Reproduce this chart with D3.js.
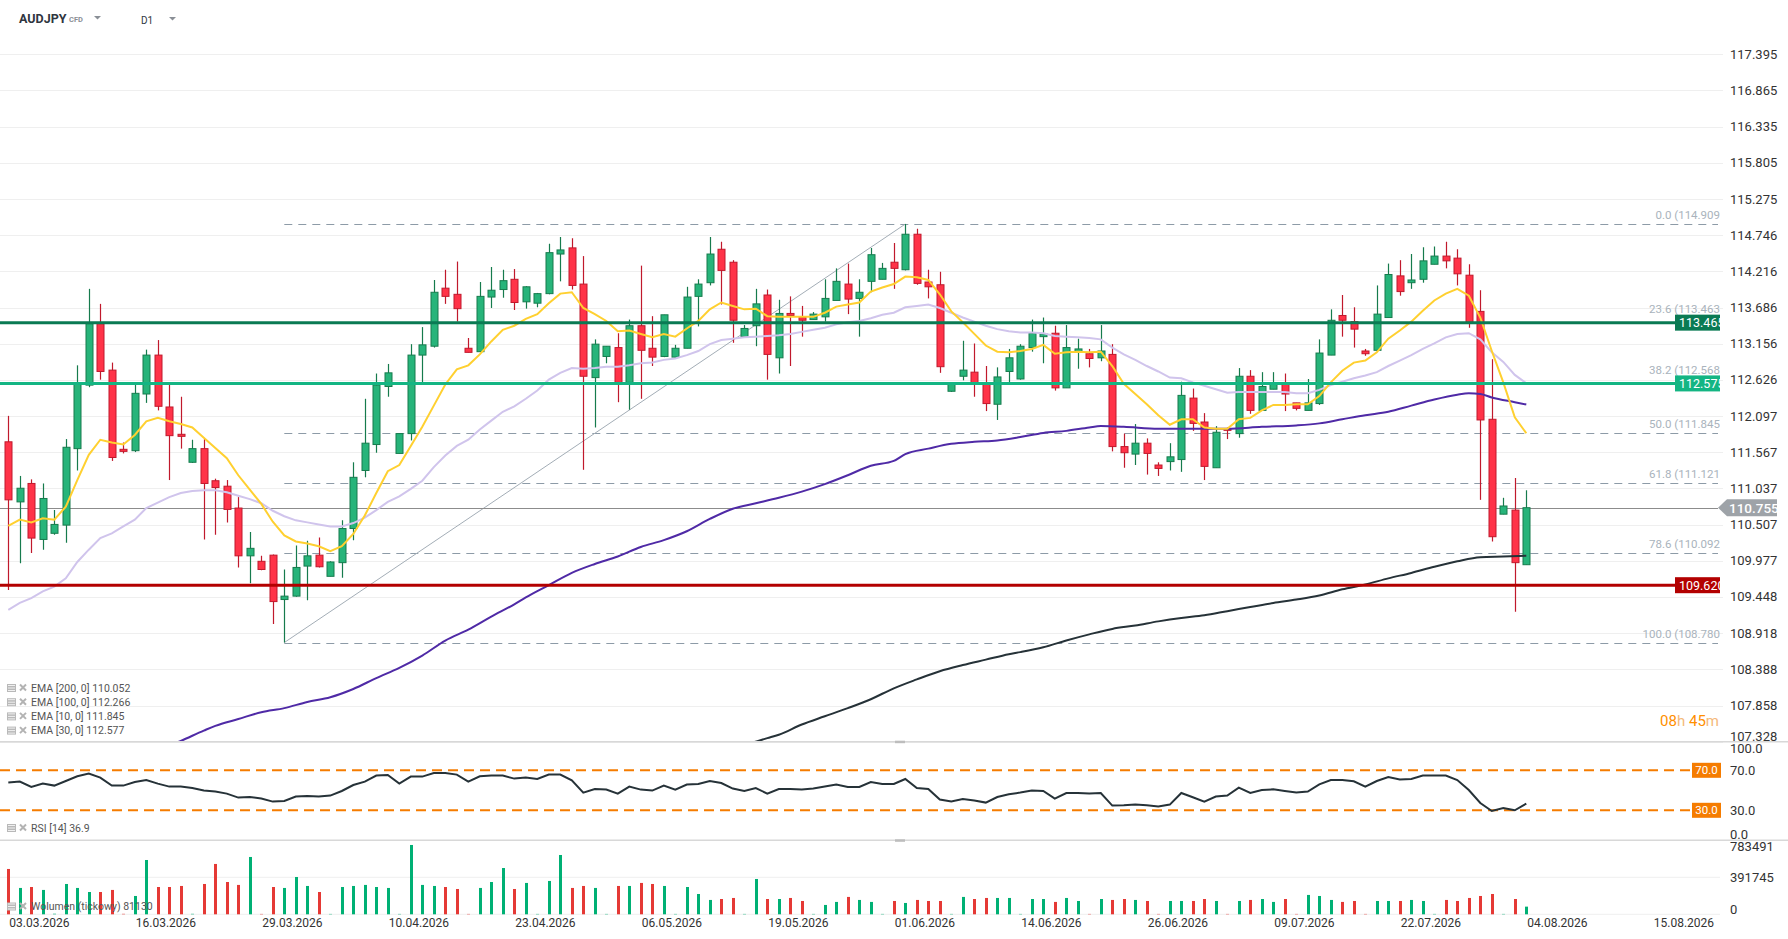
<!DOCTYPE html>
<html>
<head>
<meta charset="utf-8">
<script src="https://cdn.jsdelivr.net/npm/d3@7.9.0/dist/d3.min.js"></script>
<style>
  html, body { margin: 0; padding: 0; background: #fff; }
  svg { display: block; font-family: Roboto, "Noto Sans", sans-serif; }
</style>
</head>
<body>
<svg id="chart" width="1788" height="939"></svg>
<script>
// AUDJPY D1 candles, one per trading bar starting 03.03.2026
const openP = [
  111.72, 110.84, 111.11, 110.29, 110.38, 110.50, 111.62, 112.55, 113.45, 112.77,
  111.61, 111.59, 112.42, 112.99, 112.23, 111.83, 111.42, 111.62, 111.15, 111.07,
  110.75, 110.05, 109.97, 110.06, 109.41, 109.46, 109.90, 110.06, 109.75, 109.95,
  110.45, 111.30, 111.68, 112.53, 111.55, 111.84, 112.99, 113.12, 113.97, 113.88,
  113.09, 113.04, 113.84, 113.95, 114.10, 113.77, 113.75, 113.89, 114.47, 114.56,
  114.03, 112.66, 112.97, 113.10, 112.59, 113.42, 113.09, 112.97, 112.96, 113.09,
  113.85, 114.05, 114.54, 114.35, 113.26, 113.42, 113.87, 112.95, 113.60, 113.54,
  113.51, 113.55, 113.79, 114.03, 113.82, 114.07, 114.10, 114.35, 114.24, 114.76,
  114.06, 114.02, 112.46, 112.68, 112.74, 112.56, 112.27, 112.75, 112.64, 113.10,
  113.26, 113.31, 112.51, 113.04, 113.01, 112.95, 113.00, 111.65, 111.54, 111.70,
  111.38, 111.43, 111.46, 112.36, 112.01, 111.34, 111.91, 111.84, 112.68, 112.18,
  112.49, 112.56, 112.29, 112.18, 112.28, 112.99, 113.57, 113.48, 113.05, 113.06,
  113.54, 114.15, 114.05, 114.10, 114.32, 114.44, 114.41, 114.16, 113.63, 112.05,
  110.66, 110.72, 109.92
];
const highP = [
  112.10, 111.22, 111.17, 111.11, 110.72, 111.76, 112.84, 113.96, 113.74, 112.88,
  111.71, 112.56, 113.07, 113.21, 112.57, 112.38, 111.75, 111.76, 111.18, 111.16,
  110.91, 110.40, 110.05, 110.07, 109.85, 110.20, 110.27, 110.32, 109.97, 110.57,
  111.42, 112.35, 112.72, 112.86, 111.84, 113.15, 113.40, 114.09, 114.24, 114.36,
  113.24, 114.06, 114.28, 114.24, 114.25, 114.00, 113.90, 114.62, 114.72, 114.70,
  114.44, 113.22, 113.12, 113.31, 113.51, 114.30, 113.56, 113.58, 113.14, 113.99,
  114.10, 114.72, 114.65, 114.38, 113.43, 113.96, 113.95, 113.80, 113.85, 113.71,
  113.62, 114.10, 114.26, 114.33, 114.10, 114.56, 114.34, 114.63, 114.909, 114.84,
  114.24, 114.21, 112.57, 113.20, 113.16, 112.83, 112.81, 113.08, 113.15, 113.51,
  113.54, 113.42, 113.43, 113.23, 113.08, 113.43, 113.15, 111.84, 111.98, 111.77,
  111.42, 111.70, 112.60, 112.50, 112.14, 111.95, 111.93, 112.80, 112.77, 112.74,
  112.74, 112.72, 112.29, 112.64, 113.22, 113.66, 113.87, 113.69, 113.08, 114.01,
  114.33, 114.38, 114.47, 114.57, 114.58, 114.65, 114.54, 114.32, 113.94, 112.93,
  110.90, 111.19, 111.01
];
const lowP = [
  109.55, 109.94, 110.09, 110.14, 110.36, 110.24, 111.30, 112.52, 112.63, 111.44,
  111.55, 111.57, 112.29, 112.18, 111.16, 111.62, 111.41, 110.29, 110.36, 110.54,
  109.88, 109.65, 109.84, 109.05, 108.78, 109.45, 109.40, 109.88, 109.75, 109.73,
  110.28, 111.20, 111.56, 112.38, 111.55, 111.74, 112.59, 113.10, 113.74, 113.48,
  113.03, 113.04, 113.68, 113.83, 113.65, 113.67, 113.69, 113.88, 114.07, 113.95,
  111.31, 111.93, 112.87, 112.30, 112.19, 112.35, 112.83, 112.96, 112.95, 113.09,
  113.41, 114.01, 113.73, 113.17, 113.26, 113.12, 112.63, 112.72, 112.83, 113.26,
  113.51, 113.48, 113.79, 113.59, 113.26, 113.91, 114.10, 113.96, 114.23, 114.02,
  113.82, 112.73, 112.45, 112.62, 112.38, 112.17, 112.04, 112.56, 112.63, 113.04,
  112.87, 112.47, 112.51, 112.79, 112.81, 112.90, 111.58, 111.34, 111.38, 111.24,
  111.22, 111.30, 111.28, 111.88, 111.16, 111.34, 111.76, 111.78, 112.13, 112.18,
  112.49, 112.17, 112.18, 112.18, 112.26, 112.99, 113.26, 113.10, 112.98, 113.06,
  113.54, 113.86, 113.96, 114.05, 114.32, 114.26, 114.01, 113.39, 110.87, 110.26,
  110.66, 109.23, 109.92
];
const closeP = [
  110.87, 111.04, 110.31, 110.89, 110.51, 111.64, 112.56, 113.45, 112.75, 111.49,
  111.58, 112.43, 112.99, 112.24, 111.81, 111.80, 111.62, 111.11, 111.05, 110.73,
  110.05, 110.16, 109.85, 109.38, 109.46, 109.88, 110.05, 109.89, 109.96, 110.45,
  111.20, 111.70, 112.55, 112.73, 111.84, 112.99, 113.14, 113.91, 113.85, 113.67,
  113.03, 113.85, 113.94, 114.08, 113.76, 113.99, 113.89, 114.49, 114.53, 114.01,
  112.68, 113.15, 113.12, 112.59, 113.42, 113.06, 112.96, 113.58, 113.09, 113.84,
  114.03, 114.47, 114.23, 113.50, 113.38, 113.74, 113.00, 113.60, 113.57, 113.50,
  113.59, 113.82, 114.07, 113.81, 113.91, 114.46, 114.26, 114.26, 114.76, 114.04,
  113.99, 112.82, 112.56, 112.77, 112.57, 112.28, 112.67, 112.95, 113.12, 113.31,
  113.30, 112.51, 113.10, 113.08, 112.94, 113.05, 111.65, 111.56, 111.70, 111.55,
  111.33, 111.50, 112.40, 111.99, 111.36, 111.86, 111.89, 112.68, 112.18, 112.53,
  112.57, 112.42, 112.21, 112.29, 113.02, 113.50, 113.50, 113.37, 113.01, 113.59,
  114.17, 113.92, 114.09, 114.37, 114.44, 114.37, 114.18, 113.47, 112.04, 110.33,
  110.78, 109.95, 110.755
];

// EMA values read per bar
const ema10 = [
  110.49, 110.58, 110.54, 110.60, 110.58, 110.77, 111.16, 111.53, 111.75, 111.71,
  111.68, 111.82, 112.02, 112.07, 112.02, 111.98, 111.93, 111.78, 111.63, 111.48,
  111.23, 111.02, 110.81, 110.55, 110.35, 110.26, 110.23, 110.19, 110.12, 110.19,
  110.37, 110.64, 110.97, 111.29, 111.38, 111.66, 111.94, 112.25, 112.56, 112.78,
  112.84, 113.00, 113.19, 113.36, 113.42, 113.52, 113.59, 113.75, 113.89, 113.91,
  113.68, 113.59, 113.49, 113.34, 113.35, 113.30, 113.25, 113.30, 113.26, 113.38,
  113.49, 113.66, 113.76, 113.71, 113.66, 113.67, 113.56, 113.55, 113.55, 113.55,
  113.55, 113.61, 113.70, 113.73, 113.76, 113.92, 113.98, 114.03, 114.14, 114.13,
  114.09, 113.88, 113.63, 113.47, 113.30, 113.13, 113.04, 113.03, 113.05, 113.08,
  113.14, 113.01, 113.03, 113.04, 113.03, 113.04, 112.83, 112.57, 112.42, 112.27,
  112.11, 111.97, 112.05, 112.05, 111.93, 111.91, 111.91, 112.05, 112.07, 112.18,
  112.26, 112.26, 112.27, 112.27, 112.39, 112.59, 112.76, 112.88, 112.91, 113.03,
  113.23, 113.35, 113.48, 113.64, 113.79, 113.89, 113.96, 113.86, 113.54, 113.05,
  112.59, 112.08, 111.845
];
const ema30 = [
  109.26, 109.36, 109.43, 109.53, 109.60, 109.72, 109.96, 110.14, 110.31, 110.38,
  110.48, 110.58, 110.75, 110.83, 110.91, 110.97, 111.00, 111.01, 111.01, 110.98,
  110.93, 110.88, 110.82, 110.71, 110.63, 110.57, 110.54, 110.51, 110.48, 110.48,
  110.53, 110.61, 110.72, 110.84, 110.92, 111.03, 111.15, 111.35, 111.52, 111.66,
  111.75, 111.90, 112.03, 112.16, 112.24, 112.35, 112.47, 112.63, 112.73, 112.80,
  112.79, 112.80, 112.82, 112.82, 112.84, 112.87, 112.88, 112.92, 112.94, 112.99,
  113.05, 113.15, 113.21, 113.23, 113.25, 113.26, 113.27, 113.28, 113.30, 113.33,
  113.36, 113.39, 113.44, 113.47, 113.49, 113.53, 113.58, 113.61, 113.69, 113.71,
  113.73, 113.68, 113.61, 113.54, 113.48, 113.42, 113.37, 113.34, 113.32, 113.32,
  113.31, 113.27, 113.26, 113.25, 113.24, 113.22, 113.10, 113.00, 112.92, 112.83,
  112.75, 112.66, 112.65, 112.59, 112.54, 112.49, 112.44, 112.45, 112.45, 112.45,
  112.45, 112.45, 112.43, 112.43, 112.48, 112.55, 112.60, 112.65, 112.69, 112.74,
  112.83, 112.91, 112.99, 113.08, 113.16, 113.25, 113.30, 113.31, 113.22, 113.03,
  112.89, 112.70, 112.577
];
// EMA 100 / 200 read at sample bars
const ema100Bars = [14, 15, 17, 18, 20, 22, 24, 26, 28, 30, 32, 34, 36, 38, 40, 42, 44, 45, 47, 49,
  51, 53, 55, 57, 59, 61, 63, 65, 67, 69, 71, 73, 75, 77, 78, 80, 82, 84, 86, 88,
  90, 92, 94, 95, 97, 100, 103, 106, 109, 112, 114, 116, 118, 120, 122, 124, 126, 127, 128, 129, 131, 132];
const ema100Vals = [107.27, 107.34, 107.49, 107.56, 107.66, 107.76, 107.82, 107.91, 107.98, 108.10,
  108.26, 108.41, 108.59, 108.81, 108.97, 109.16, 109.34, 109.44, 109.62, 109.80,
  109.93, 110.04, 110.18, 110.28, 110.41, 110.59, 110.74, 110.82, 110.90, 110.99,
  111.10, 111.23, 111.37, 111.44, 111.54, 111.62, 111.69, 111.72, 111.74, 111.79,
  111.85, 111.88, 111.93, 111.95, 111.94, 111.91, 111.91, 111.91, 111.94, 111.96,
  111.99, 112.05, 112.11, 112.16, 112.25, 112.34, 112.41, 112.43, 112.42, 112.37, 112.30, 112.266];
const ema200Bars = [64, 66, 67, 69, 71, 73, 75, 77, 79, 81, 83, 85, 87, 88, 90, 92, 94, 96, 98, 100,
  102, 104, 106, 108, 110, 112, 114, 116, 118, 120, 122, 124, 126, 128, 130, 132];
const ema200Vals = [107.28, 107.38, 107.43, 107.58, 107.70, 107.82, 107.95, 108.11, 108.24, 108.36,
  108.45, 108.53, 108.61, 108.64, 108.71, 108.81, 108.90, 108.98, 109.03, 109.09,
  109.14, 109.18, 109.24, 109.30, 109.36, 109.41, 109.47, 109.56, 109.63, 109.72,
  109.80, 109.89, 109.97, 110.03, 110.04, 110.052];

const rsi14 = [
  57.7, 58.7, 53.3, 56.7, 54.7, 59.3, 64.0, 66.7, 62.7, 54.7,
  54.7, 58.3, 60.3, 56.7, 53.7, 53.7, 52.3, 49.7, 48.7, 46.7,
  42.7, 43.3, 41.7, 38.7, 39.3, 43.7, 44.3, 43.7, 44.7, 49.3,
  55.3, 58.7, 64.7, 65.3, 56.7, 63.7, 63.7, 67.3, 67.3, 65.7,
  58.7, 64.0, 64.7, 64.7, 61.7, 62.7, 61.3, 65.7, 65.7, 60.0,
  47.7, 51.3, 50.7, 46.7, 53.7, 50.7, 49.7, 54.7, 50.7, 55.7,
  56.3, 59.3, 57.3, 51.7, 49.3, 52.3, 46.7, 51.3, 51.3, 50.7,
  51.7, 53.7, 55.7, 53.3, 53.3, 58.3, 56.3, 56.3, 61.3, 52.3,
  51.3, 40.7, 38.7, 41.3, 39.7, 37.7, 43.3, 46.0, 47.7, 49.7,
  49.3, 41.7, 47.3, 47.3, 46.7, 47.3, 34.7, 35.0, 35.7, 35.0,
  33.7, 35.7, 47.3, 43.0, 38.7, 43.7, 44.7, 52.7, 47.3, 50.3,
  51.0, 49.3, 47.7, 48.7, 56.0, 60.3, 60.3, 59.0, 53.7, 59.3,
  63.3, 60.7, 61.3, 64.7, 64.7, 64.7, 60.3, 50.3, 37.3, 29.3,
  32.3, 30.0, 36.7
];
const volume = [
  480000, 279000, 289000, 258000, 6000, 321000, 279000, 236000, 236000, 258000,
  5000, 194000, 575000, 289000, 289000, 300000, 5000, 321000, 533000, 342000,
  311000, 607000, 4000, 289000, 279000, 395000, 300000, 236000, 4000, 289000,
  300000, 311000, 289000, 279000, 4000, 734000, 311000, 300000, 289000, 268000,
  4000, 279000, 342000, 490000, 268000, 332000, 4000, 353000, 628000, 279000,
  300000, 279000, 4000, 300000, 300000, 332000, 321000, 300000, 4000, 289000,
  215000, 152000, 162000, 173000, 4000, 374000, 162000, 162000, 173000, 141000,
  4000, 99000, 131000, 184000, 152000, 131000, 4000, 141000, 120000, 152000,
  141000, 141000, 4000, 184000, 162000, 173000, 173000, 173000, 4000, 162000,
  162000, 131000, 173000, 141000, 4000, 162000, 152000, 162000, 152000, 141000,
  4000, 141000, 141000, 141000, 162000, 141000, 4000, 141000, 152000, 162000,
  131000, 162000, 4000, 205000, 194000, 152000, 131000, 141000, 4000, 141000,
  141000, 141000, 152000, 141000, 4000, 152000, 141000, 173000, 194000, 215000,
  4000, 162000, 81130
];

const dateLabels = ['03.03.2026', '16.03.2026', '29.03.2026', '10.04.2026', '23.04.2026', '06.05.2026',
  '19.05.2026', '01.06.2026', '14.06.2026', '26.06.2026', '09.07.2026', '22.07.2026', '04.08.2026', '15.08.2026'];
const barsPerLabel = 11;
const priceTicks = [117.395, 116.865, 116.335, 115.805, 115.275, 114.746, 114.216, 113.686, 113.156, 112.626,
  112.097, 111.567, 111.037, 110.507, 109.977, 109.448, 108.918, 108.388, 107.858, 107.328];
const rsiTicks = [100, 70, 30, 0];
const volTicks = [783491, 391745, 0];

const fibPct = [0, 23.6, 38.2, 50, 61.8, 78.6, 100];
const fibPrice = [114.909, 113.463, 112.568, 111.845, 111.121, 110.092, 108.780];
const fibFromBar = 24, fibToBar = 78;

const levelPrices = [113.465, 112.575, 109.620];
const levelColors = ['#0a7a53', '#14b583', '#b30000'];
const lastPrice = 110.755;

const emaLegend = ['EMA [200, 0] 110.052', 'EMA [100, 0] 112.266', 'EMA [10, 0] 111.845', 'EMA [30, 0] 112.577'];

// ---------- drawing ----------
const svg = d3.select('#chart');
const plotRight = 1720;
const mainTop = 40, mainBottom = 741.7, rsiBottom = 840.3, volBottom = 914.3;

const x = d3.scaleLinear().domain([0, 132]).range([8.3, 1526.3]);
const y = d3.scaleLinear().domain([107.328, 117.395]).range([mainBottom, 54.3]);
const yRsi = d3.scaleLinear().domain([0, 100]).range([rsiBottom, 740.3]);
const yVol = d3.scaleLinear().domain([0, 783491]).range([volBottom, rsiBottom]);

const greenFill = '#27b47a', greenLine = '#167b4d';
const redFill = '#ff3348', redLine = '#c0192c';

const defs = svg.append('defs');
defs.append('clipPath').attr('id', 'clipMain').append('rect')
  .attr('x', 0).attr('y', mainTop).attr('width', plotRight).attr('height', mainBottom - mainTop);
defs.append('clipPath').attr('id', 'clipRsi').append('rect')
  .attr('x', 0).attr('y', mainBottom).attr('width', plotRight).attr('height', rsiBottom - mainBottom);
defs.append('clipPath').attr('id', 'clipLbl').append('rect')
  .attr('x', 0).attr('y', 0).attr('width', plotRight).attr('height', 939);

// header
svg.append('text').attr('x', 19).attr('y', 19).attr('dy', '0.35em')
  .attr('font-size', 12.5).attr('font-weight', 700).attr('fill', '#2f3640').text('AUDJPY');
svg.append('text').attr('x', 69).attr('y', 19.5).attr('dy', '0.35em')
  .attr('font-size', 7.5).attr('font-weight', 700).attr('fill', '#8a8f96').text('CFD');
svg.append('text').attr('x', 141).attr('y', 20).attr('dy', '0.35em')
  .attr('font-size', 10).attr('fill', '#2f3640').text('D1');
[[94, 16], [169, 17]].forEach(([cx, cy]) => {
  svg.append('path').attr('d', `M${cx},${cy} L${cx + 7},${cy} L${cx + 3.5},${cy + 3.5} Z`).attr('fill', '#8a8f96');
});

// price grid + labels
const grid = svg.append('g');
grid.selectAll('line').data(priceTicks).join('line')
  .attr('x1', 0).attr('x2', 1723)
  .attr('y1', d => Math.round(y(d)) + 0.5).attr('y2', d => Math.round(y(d)) + 0.5)
  .attr('stroke', '#efefef');
svg.append('g').selectAll('text').data(priceTicks).join('text')
  .attr('x', 1730).attr('y', d => Math.min(y(d), mainBottom - 5)).attr('dy', '0.35em')
  .attr('font-size', 13).attr('fill', '#333').text(d => d.toFixed(3));

// fibonacci retracement
const fib = svg.append('g');
fib.selectAll('line').data(fibPrice).join('line')
  .attr('x1', x(fibFromBar)).attr('x2', 1718)
  .attr('y1', d => Math.round(y(d)) + 0.5).attr('y2', d => Math.round(y(d)) + 0.5)
  .attr('stroke', '#8d9ba7').attr('stroke-width', 1).attr('stroke-dasharray', '8,6');
fib.append('line')
  .attr('x1', x(fibFromBar)).attr('y1', y(fibPrice[6]))
  .attr('x2', x(fibToBar)).attr('y2', y(fibPrice[0]))
  .attr('stroke', '#a3adb6').attr('stroke-width', 1);
// labels that sit on a level box are lifted clear of it
const nearLevel = p => levelPrices.some(l => Math.abs(y(l) - y(p)) < 6);
fib.append('g').attr('clip-path', 'url(#clipLbl)')
  .selectAll('text').data(fibPct).join('text')
  .attr('x', 1724).attr('y', (d, i) => y(fibPrice[i]) - (nearLevel(fibPrice[i]) ? 10 : 5))
  .attr('text-anchor', 'end').attr('font-size', 11.5).attr('fill', '#a9b3bc')
  .text((d, i) => `${d.toFixed(1)} (${fibPrice[i].toFixed(3)})`);

// last price line
svg.append('line').attr('x1', 0).attr('x2', 1718)
  .attr('y1', Math.round(y(lastPrice)) + 0.5).attr('y2', Math.round(y(lastPrice)) + 0.5)
  .attr('stroke', '#8c8c8c').attr('stroke-width', 1);

// candles
const bars = openP.map((o, i) => ({ i, o, h: highP[i], l: lowP[i], c: closeP[i], up: closeP[i] >= o }));
const gC = svg.append('g').attr('clip-path', 'url(#clipMain)');
gC.selectAll('line.wick').data(bars).join('line').attr('class', 'wick')
  .attr('x1', d => Math.round(x(d.i)) + 0.5).attr('x2', d => Math.round(x(d.i)) + 0.5)
  .attr('y1', d => y(d.h)).attr('y2', d => y(d.l))
  .attr('stroke', d => d.up ? greenLine : redLine).attr('stroke-width', 1.2);
gC.selectAll('rect.body').data(bars).join('rect').attr('class', 'body')
  .attr('x', d => Math.round(x(d.i)) - 3).attr('width', 7)
  .attr('y', d => y(Math.max(d.o, d.c)))
  .attr('height', d => Math.max(1.5, Math.abs(y(d.o) - y(d.c))))
  .attr('fill', d => d.up ? greenFill : redFill)
  .attr('stroke', d => d.up ? greenLine : redLine).attr('stroke-width', 1);

// EMA lines
const lineGen = d3.line().x(d => x(d[0])).y(d => y(d[1]));
const smoothGen = d3.line().x(d => x(d[0])).y(d => y(d[1])).curve(d3.curveMonotoneX);
const gE = svg.append('g').attr('clip-path', 'url(#clipMain)').attr('fill', 'none');
gE.append('path').attr('d', smoothGen(ema200Bars.map((b, k) => [b, ema200Vals[k]])))
  .attr('stroke', '#263238').attr('stroke-width', 2);
gE.append('path').attr('d', smoothGen(ema100Bars.map((b, k) => [b, ema100Vals[k]])))
  .attr('stroke', '#4f2aa6').attr('stroke-width', 2);
gE.append('path').attr('d', lineGen(ema30.map((v, i) => [i, v])))
  .attr('stroke', '#d0c4ec').attr('stroke-width', 2);
gE.append('path').attr('d', lineGen(ema10.map((v, i) => [i, v])))
  .attr('stroke', '#ffd030').attr('stroke-width', 2);

// horizontal levels
levelPrices.forEach((p, k) => {
  svg.append('line').attr('x1', 0).attr('x2', 1675)
    .attr('y1', y(p)).attr('y2', y(p))
    .attr('stroke', levelColors[k]).attr('stroke-width', 3);
  const g = svg.append('g').attr('clip-path', 'url(#clipLbl)');
  g.append('rect').attr('x', 1675).attr('y', y(p) - 8).attr('width', 46).attr('height', 16)
    .attr('fill', levelColors[k]);
  g.append('text').attr('x', 1679).attr('y', y(p)).attr('dy', '0.36em')
    .attr('font-size', 12.5).attr('fill', '#fff').text(p.toFixed(3));
});

// last price marker
const ly = y(lastPrice);
svg.append('path')
  .attr('d', `M1718,${ly} L1727,${ly - 8.5} L1777,${ly - 8.5} L1777,${ly + 8.5} L1727,${ly + 8.5} Z`)
  .attr('fill', '#9ea3a8');
svg.append('text').attr('x', 1729).attr('y', ly).attr('dy', '0.36em')
  .attr('font-size', 13.5).attr('font-weight', 500).attr('fill', '#fff').text(lastPrice.toFixed(3));

// countdown
const cd = svg.append('text').attr('x', 1719).attr('y', 721).attr('dy', '0.35em')
  .attr('text-anchor', 'end').attr('font-size', 15);
cd.append('tspan').attr('fill', '#ff8f00').text('08');
cd.append('tspan').attr('fill', '#f4b97a').text('h ');
cd.append('tspan').attr('fill', '#ff8f00').text('45');
cd.append('tspan').attr('fill', '#f4b97a').text('m');

// legend icon helper
function legendIcon(g, lx, ly0) {
  g.append('rect').attr('x', lx).attr('y', ly0 - 4).attr('width', 9).attr('height', 8).attr('fill', '#b9b9b9');
  [ -2, 0.5, 3 ].forEach(dy => g.append('line').attr('x1', lx + 1).attr('x2', lx + 8)
    .attr('y1', ly0 + dy - 0.5).attr('y2', ly0 + dy - 0.5).attr('stroke', '#fff').attr('stroke-width', 0.8));
  g.append('path').attr('d', `M${lx + 13},${ly0 - 3.5} L${lx + 19},${ly0 + 2.5} M${lx + 19},${ly0 - 3.5} L${lx + 13},${ly0 + 2.5}`)
    .attr('stroke', '#b3b3b3').attr('stroke-width', 2);
}
const leg = svg.append('g');
emaLegend.forEach((t, k) => {
  const ly0 = 688 + k * 14.2;
  legendIcon(leg, 7, ly0);
  leg.append('text').attr('x', 31).attr('y', ly0).attr('dy', '0.35em')
    .attr('font-size', 10.5).attr('fill', '#555').text(t);
});

// pane separators
[mainBottom, rsiBottom].forEach(sy => {
  svg.append('line').attr('x1', 0).attr('x2', 1788).attr('y1', sy).attr('y2', sy)
    .attr('stroke', '#d8d8d8').attr('stroke-width', 1.5);
  svg.append('rect').attr('x', 895).attr('y', sy - 1).attr('width', 10).attr('height', 2.5).attr('fill', '#bdbdbd');
});

// RSI pane
const gR = svg.append('g');
[70, 30].forEach(v => {
  gR.append('line').attr('x1', 0).attr('x2', 1692).attr('y1', yRsi(v)).attr('y2', yRsi(v))
    .attr('stroke', '#f57c00').attr('stroke-width', 2).attr('stroke-dasharray', '10,6');
  gR.append('rect').attr('x', 1692).attr('y', yRsi(v) - 7.5).attr('width', 29).attr('height', 15).attr('fill', '#f57c00');
  gR.append('text').attr('x', 1706.5).attr('y', yRsi(v)).attr('dy', '0.36em').attr('text-anchor', 'middle')
    .attr('font-size', 11.5).attr('fill', '#fff').text(v.toFixed(1));
});
gR.append('path').attr('clip-path', 'url(#clipRsi)')
  .attr('d', lineGen.y(d => yRsi(d[1]))(rsi14.map((v, i) => [i, v])))
  .attr('fill', 'none').attr('stroke', '#263238').attr('stroke-width', 2);
svg.append('g').selectAll('text').data(rsiTicks).join('text')
  .attr('x', 1730).attr('y', d => Math.max(mainBottom + 7, Math.min(rsiBottom - 6, yRsi(d)))).attr('dy', '0.35em')
  .attr('font-size', 13).attr('fill', '#333').text(d => d.toFixed(1));
legendIcon(svg, 7, 828);
svg.append('text').attr('x', 31).attr('y', 828).attr('dy', '0.35em')
  .attr('font-size', 10.5).attr('fill', '#555').text('RSI [14] 36.9');

// volume pane
const gV = svg.append('g');
volTicks.forEach(v => {
  if (v < 783491) {
    gV.append('line').attr('x1', 0).attr('x2', 1720).attr('y1', yVol(v)).attr('y2', yVol(v))
      .attr('stroke', '#efefef');
  }
});
gV.selectAll('rect').data(bars).join('rect')
  .attr('x', d => Math.round(x(d.i)) - 1).attr('width', 3)
  .attr('y', d => yVol(volume[d.i])).attr('height', d => yVol(0) - yVol(volume[d.i]))
  .attr('fill', d => d.up ? '#00b074' : '#e53935');
svg.append('g').selectAll('text').data(volTicks).join('text')
  .attr('x', 1730).attr('y', d => Math.max(rsiBottom + 6.5, Math.min(volBottom - 5, yVol(d)))).attr('dy', '0.35em')
  .attr('font-size', 13).attr('fill', '#333').text(d => d);
legendIcon(svg, 7, 906.5);
svg.append('text').attr('x', 31).attr('y', 906.5).attr('dy', '0.35em')
  .attr('font-size', 10.5).attr('fill', '#555').text('Wolumen (tickowy) 81130');

// date axis
svg.append('g').selectAll('text').data(dateLabels).join('text')
  .attr('x', (d, k) => x(k * barsPerLabel) + 1).attr('y', 923).attr('dy', '0.35em')
  .attr('font-size', 12).attr('fill', '#333').text(d => d);
</script>
</body>
</html>
